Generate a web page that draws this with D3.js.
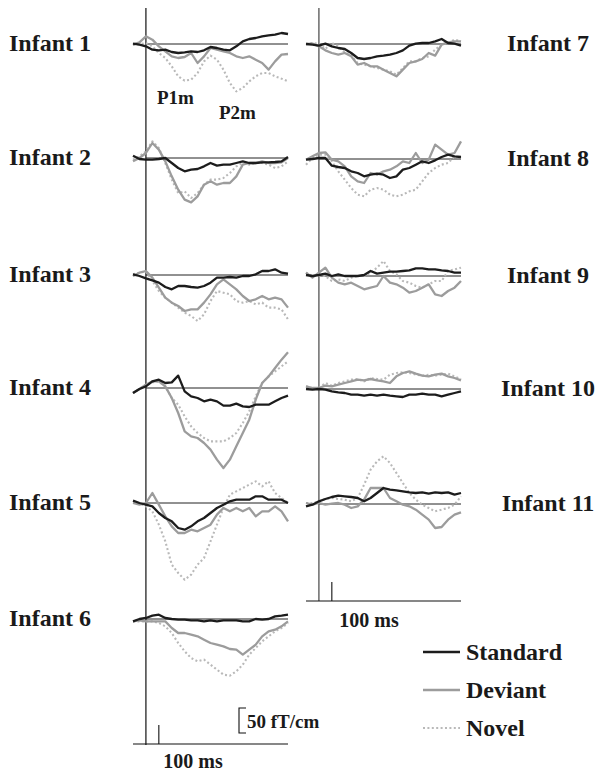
<!DOCTYPE html>
<html>
<head>
<meta charset="utf-8">
<script src="https://cdn.jsdelivr.net/npm/d3@7/dist/d3.min.js"></script>
<style>
  body { margin: 0; background: #fff; }
  svg text { font-family: "Liberation Serif", "Times New Roman", serif; font-weight: bold; fill: #1a1a1a; }
</style>
</head>
<body>
<svg id="chart" width="603" height="776"></svg>
<script>
// sample times (ms) for every trace
const times = [-100, -50, 0, 50, 100, 150, 200, 250, 300, 350, 400, 450, 500,
               550, 600, 650, 700, 750, 800, 850, 900, 950, 1000, 1050, 1100];

// amplitudes in fT/cm
const std1 = [0.7, -1.3, -4.7, -11.3, -12.7, -11.3, -16, -18, -16.7, -14.7, -16, -12.7, -6, -8, -11.3, -12.7, -4.7, 5.3, 10, 12, 15.3, 17.3, 18.7, 22, 20];
const dev1 = [-1.3, 3.3, 15.3, 8.7, -4.7, -14.7, -24.7, -28, -26, -18, -38, -24.7, -8, -11.3, -14.7, -18, -24.7, -28, -24.7, -31.3, -38, -51.3, -34.7, -21.3, -20];
const nov1 = [-1.3, -0.7, 2, -4.7, -18, -28, -44.7, -64.7, -73.3, -71.3, -58, -34.7, -23.3, -31.3, -51.3, -78, -94.7, -88, -74.7, -64.7, -58, -58, -64.7, -69.3, -74.7];

const std2 = [4.7, -2, -3.3, -3.3, -2, 0, -10, -20, -26.7, -23.3, -22, -16.7, -10, -15.3, -13.3, -13.3, -10, -6.7, -10, -10, -8.7, -8.7, -8, -6.7, 2];
const dev2 = [-6.7, 0, 10, 30, 16.7, -6.7, -36.7, -63.3, -83.3, -88.7, -76.7, -53.3, -46.7, -53.3, -50, -50, -36.7, -13.3, -10, -10, -6.7, -10, -10, -8.7, 0];
const nov2 = [-3.3, 3.3, 13.3, 33.3, 20, -10, -43.3, -70, -66.7, -80, -70, -53.3, -43.3, -43.3, -40, -30, -16.7, -10, -13.3, -10, -10, -13.3, -20, -16.7, -6.7];

const std3 = [1.3, -2, -6.7, -10.7, -15.3, -24, -28.7, -22, -22, -24, -25.3, -22, -15.3, -5.3, -5.3, -4, -5.3, -2, -2, 1.3, 8, 8, 11.3, 4.7, 2.7];
const dev3 = [-2, 4.7, 8, -5.3, -25.3, -45.3, -55.3, -62, -72, -68.7, -68.7, -55.3, -38.7, -18.7, -8.7, -18.7, -28.7, -42, -52, -48.7, -42, -48.7, -45.3, -48.7, -65.3];
const nov3 = [1.3, 4.7, 6.7, -12, -32, -45.3, -55.3, -65.3, -75.3, -82, -92, -78.7, -52, -32, -35.3, -38.7, -52, -55.3, -52, -58.7, -55.3, -65.3, -65.3, -68.7, -88.7];

const std4 = [-10, -2, 3.3, 13.3, 16.7, 10, 11.3, 24.7, -6.7, -16.7, -20, -26.7, -23.3, -26.7, -35.3, -35.3, -31.3, -36.7, -38, -33.3, -33.3, -33.3, -26.7, -20, -15.3];
const dev4 = [-10, -2, 6.7, 13.3, 13.3, 3.3, -20, -50, -86.7, -96.7, -100, -110, -123.3, -143.3, -160, -143.3, -116.7, -90, -63.3, -23.3, 10, 23.3, 40, 56.7, 71.3];
const nov4 = [-10, -2, 6.7, 11.3, 13.3, 3.3, -20, -33.3, -56.7, -76.7, -90, -100, -106.7, -106.7, -106.7, -100, -90, -70, -46.7, -16.7, 10, 23.3, 33.3, 43.3, 53.3];

const std5 = [4.7, 0, -3.3, -6.7, -20, -30, -36.7, -50, -53.3, -46.7, -36.7, -30, -20, -10, -3.3, 3.3, 6.7, 6.7, 6.7, 13.3, 13.3, 6.7, 6.7, 6.7, 0];
const dev5 = [0, -3.3, 0, 20, -3.3, -26.7, -46.7, -60, -60, -53.3, -56.7, -50, -43.3, -23.3, -10, -16.7, -10, -16.7, -10, -26.7, -16.7, -16.7, -6.7, -16.7, -36.7];
const nov5 = [0, 0, -6.7, -16.7, -43.3, -76.7, -123.3, -140, -153.3, -143.3, -123.3, -110, -76.7, -43.3, -10, 16.7, 23.3, 30, 36.7, 43.3, 33.3, 43.3, 20, 10, 0];

const std6 = [-4.7, 0, 2, 6.7, 8.7, 2, 0, -1.3, -1.3, -2.7, -2.7, -4.7, -2.7, -4.7, -2.7, -2.7, -2.7, -4.7, -4.7, 0, -1.3, 0, 5.3, 6.7, 8.7];
const dev6 = [-4.7, -2.7, -4.7, -4.7, -4.7, -4.7, -18, -28, -28, -31.3, -34.7, -41.3, -48, -51.3, -54.7, -60, -61.3, -71.3, -61.3, -51.3, -34.7, -24.7, -21.3, -14.7, -4.7];
const nov6 = [-4.7, -4.7, -4.7, -4.7, -8, -14.7, -28, -48, -64.7, -78, -84.7, -81.3, -91.3, -101.3, -111.3, -113.3, -104.7, -91.3, -71.3, -58, -44.7, -34.7, -24.7, -18, -8];

const std7 = [0, -1.3, -3.3, 0.7, -4.7, -8, -10, -18, -28, -30, -28, -24.7, -23.3, -21.3, -18, -12.7, -3.3, 0.7, 2, 2, 5.3, 10, 2, 0.7, -3.3];
const dev7 = [0, 0.7, -4.7, -12.7, -18, -21.3, -18, -24.7, -41.3, -38, -44.7, -44.7, -51.3, -58, -64.7, -51.3, -38, -34.7, -30, -18, -23.3, -1.3, 3.3, 5.3, 5.3];
const nov7 = [0, 2, 0.7, -10, 2, -4.7, -16.7, -23.3, -38, -41.3, -44.7, -48, -51.3, -54.7, -61.3, -48, -34.7, -34.7, -28, -24.7, -11.3, -1.3, 2, 8.7, 5.3];

const std8 = [-1.3, 0, 2, 2, -13.3, -16, -18, -24.7, -28, -34.7, -31.3, -29.3, -31.3, -38, -34.7, -21.3, -18, -11.3, -4.7, -8, -2.7, 4, 8.7, 5.3, 4];
const dev8 = [-1.3, 5.3, 12, 13.3, -1.3, -4.7, -14.7, -34.7, -44.7, -48, -28, -31.3, -24.7, -21.3, -14.7, -4.7, -8, 12, -8, -1.3, 28.7, 18.7, 8.7, 12, 35.3];
const nov8 = [-11.3, 2, 8.7, 8.7, -4.7, -24.7, -41.3, -58, -71.3, -74.7, -61.3, -58, -61.3, -71.3, -74.7, -71.3, -64.7, -61.3, -44.7, -28, -18, -11.3, -8, 5.3, 2];

const std9 = [2, 0, 2, 4.7, 0, 3.3, 0, 0, 0, 2, 10, 4.7, 6.7, 8.7, 8.7, 10, 11.3, 15.3, 15.3, 13.3, 13.3, 11.3, 10, 6.7, 6.7];
const dev9 = [6.7, -3.3, 6.7, 16.7, -3.3, -13.3, -16.7, -13.3, -20, -26.7, -23.3, -20, 0, -13.3, -16.7, -23.3, -33.3, -30, -23.3, -16.7, -36.7, -40, -30, -23.3, -10];
const nov9 = [6.7, 0, 0, 0, -10, -6.7, -10, -3.3, 0, 0, 6.7, 16.7, 30, 10, 3.3, -10, -13.3, -20, -23.3, -16.7, -10, -10, 10, 13.3, 16.7];

const std10 = [0, -1.3, 0, -1.3, -4.7, -6.7, -8, -11.3, -11.3, -13.3, -11.3, -13.3, -11.3, -13.3, -14.7, -16, -11.3, -11.3, -9.3, -11.3, -11.3, -14.7, -11.3, -8, -4.7];
const dev10 = [5.3, 2, 2, 6.7, 5.3, 8.7, 12, 15.3, 18.7, 17.3, 20, 17.3, 15.3, 12, 25.3, 32, 35.3, 30.7, 26.7, 25.3, 28.7, 30.7, 25.3, 22, 17.3];
const nov10 = [5.3, 2, 2, 12, 6.7, 12, 15.3, 18.7, 20, 15.3, 22, 20, 18.7, 28.7, 32, 33.3, 32, 28.7, 26.7, 28.7, 26.7, 28.7, 30.7, 25.3, 20];

const std11 = [-4.7, -1.3, 5.3, 10, 14, 16.7, 15.3, 14, 12, 5.3, 12, 22, 32, 28.7, 27.3, 25.3, 23.3, 22, 23.3, 20.7, 23.3, 22, 23.3, 18.7, 22];
const dev11 = [2, -1.3, 2, -1.3, 0.7, 2, -1.3, -8, -4.7, 8.7, 32, 32, 32, 12, 5.3, -1.3, -4.7, -11.3, -21.3, -31.3, -48, -46, -31.3, -21.3, -16.7];
const nov11 = [2, 2, 5.3, 10, 12, 10, 8.7, 5.3, 12, 38.7, 68.7, 85.3, 95.3, 82, 62, 42, 22, 8.7, -1.3, -8, -14.7, -11.3, -8, -1.3, 15.3];

const infantLabels = ["Infant 1", "Infant 2", "Infant 3", "Infant 4", "Infant 5", "Infant 6",
                      "Infant 7", "Infant 8", "Infant 9", "Infant 10", "Infant 11"];
const conditions = ["Standard", "Deviant", "Novel"];

const panels = [
  [std1, dev1, nov1], [std2, dev2, nov2], [std3, dev3, nov3], [std4, dev4, nov4],
  [std5, dev5, nov5], [std6, dev6, nov6], [std7, dev7, nov7], [std8, dev8, nov8],
  [std9, dev9, nov9], [std10, dev10, nov10], [std11, dev11, nov11]
];

const svg = d3.select("#chart");

// two columns of traces, each with its own time scale
const xLeft = d3.scaleLinear().domain([-100, 1100]).range([133, 288]);
const xRight = d3.scaleLinear().domain([-100, 1100]).range([306, 461]);
const leftBase = [44, 158, 275, 388, 503, 619];
const rightBase = [44, 159, 276, 389, 504];

const styles = [
  { stroke: "#1c1c1c", width: 2.3, dash: null },
  { stroke: "#9c9c9c", width: 2.3, dash: null },
  { stroke: "#b9b9b9", width: 2.1, dash: "2,2.4" }
];

// stimulus onset lines and time axes
svg.append("line").attr("x1", xLeft(0)).attr("x2", xLeft(0)).attr("y1", 8).attr("y2", 745)
  .attr("stroke", "#111").attr("stroke-width", 1.2);
svg.append("line").attr("x1", xRight(0)).attr("x2", xRight(0)).attr("y1", 8).attr("y2", 601)
  .attr("stroke", "#444").attr("stroke-width", 1.2);

function timeAxis(x, y) {
  svg.append("line").attr("x1", x(-100)).attr("x2", x(1100)).attr("y1", y).attr("y2", y)
    .attr("stroke", "#111").attr("stroke-width", 1.1);
  svg.append("line").attr("x1", x(100)).attr("x2", x(100)).attr("y1", y - 19).attr("y2", y)
    .attr("stroke", "#111").attr("stroke-width", 1.1);
}
timeAxis(xLeft, 744);
timeAxis(xRight, 601);
svg.append("text").attr("x", 193).attr("y", 768).attr("text-anchor", "middle")
  .style("font-size", "20px").text("100 ms");
svg.append("text").attr("x", 369).attr("y", 627).attr("text-anchor", "middle")
  .style("font-size", "20px").text("100 ms");

panels.forEach((traces, i) => {
  const left = i < 6;
  const x = left ? xLeft : xRight;
  const base = left ? leftBase[i] : rightBase[i - 6];
  const y = d3.scaleLinear().domain([0, 50]).range([base, base - 25]);

  svg.append("line").attr("x1", x(0)).attr("x2", x(1100)).attr("y1", base).attr("y2", base)
    .attr("stroke", "#222").attr("stroke-width", 1);

  const line = d3.line().x((d, j) => x(times[j])).y(d => y(d));
  // draw novel first, standard on top
  [2, 1, 0].forEach(k => {
    svg.append("path").datum(traces[k]).attr("d", line)
      .attr("fill", "none").attr("stroke", styles[k].stroke)
      .attr("stroke-width", styles[k].width)
      .attr("stroke-dasharray", styles[k].dash)
      .attr("stroke-linejoin", "round");
  });

  svg.append("text")
    .attr("x", left ? 9 : 548).attr("y", base + 7)
    .attr("text-anchor", left ? "start" : "middle")
    .style("font-size", "24px").text(infantLabels[i]);
});

// component labels on infant 1
svg.append("text").attr("x", 157).attr("y", 104).style("font-size", "19px").text("P1m");
svg.append("text").attr("x", 219).attr("y", 119).style("font-size", "19px").text("P2m");

// amplitude scale bar: 50 fT/cm
const yBar = d3.scaleLinear().domain([0, 50]).range([733, 708]);
svg.append("path")
  .attr("d", `M246,${yBar(50)}H239V${yBar(0)}H246`)
  .attr("fill", "none").attr("stroke", "#111").attr("stroke-width", 1.1);
svg.append("text").attr("x", 247).attr("y", 728).style("font-size", "19px").text("50 fT/cm");

// legend
const legendY = [652, 690, 728];
conditions.forEach((c, k) => {
  svg.append("line").attr("x1", 423).attr("x2", 460).attr("y1", legendY[k]).attr("y2", legendY[k])
    .attr("stroke", styles[k].stroke).attr("stroke-width", styles[k].width)
    .attr("stroke-dasharray", styles[k].dash);
  svg.append("text").attr("x", 466).attr("y", legendY[k] + 8)
    .style("font-size", "24px").text(c);
});
</script>
</body>
</html>
